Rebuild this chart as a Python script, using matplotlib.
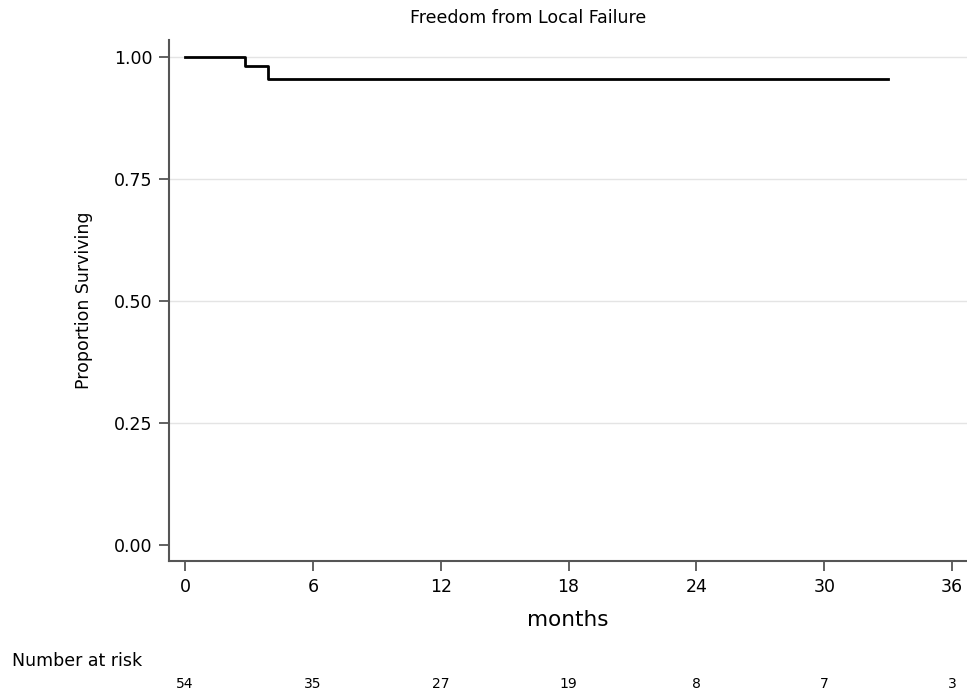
import matplotlib
matplotlib.use("Agg")
import matplotlib.pyplot as plt

# survival step curve (months, proportion)
times = [0, 2.8, 3.9, 33.0]
surv = [1.0, 0.981, 0.955, 0.955]

# number at risk table
risk_months = [0, 6, 12, 18, 24, 30, 36]
risk_counts = [54, 35, 27, 19, 8, 7, 3]

y_ticks = [0.0, 0.25, 0.5, 0.75, 1.0]
y_labels = ["0.00", "0.25", "0.50", "0.75", "1.00"]

plt.rcParams['font.family'] = ['DejaVu Sans']

fig = plt.figure(figsize=(9.67, 6.93), dpi=100)
ax = fig.add_axes([0.1748, 0.1905, 0.8252, 0.7518])

ax.step(times, surv, where='post', color='black', linewidth=2)

ax.set_xlim(-0.75, 36.7)
ax.set_ylim(-0.032, 1.035)
ax.set_xticks(risk_months)
ax.set_yticks(y_ticks)
ax.set_yticklabels(y_labels)

# light horizontal grid, except at zero
for yv in y_ticks[1:]:
    ax.axhline(yv, color='#e4e4e4', linewidth=1, zorder=0)

for side in ['top', 'right']:
    ax.spines[side].set_visible(False)
for side in ['left', 'bottom']:
    ax.spines[side].set_color('#555555')
    ax.spines[side].set_linewidth(1.5)

ax.tick_params(axis='both', direction='out', length=7, width=1.3, color='#555555',
               labelsize=12.5, pad=5)

ax.set_ylabel('Proportion Surviving', fontsize=12.5, labelpad=15)
ax.set_xlabel('months', fontsize=15.5, labelpad=10)

fig.text(528 / 967, 1 - 18 / 693, 'Freedom from Local Failure', fontsize=12.5,
         ha='center', va='center')

fig.text(12 / 967, 1 - 661 / 693, 'Number at risk', fontsize=12.5,
         ha='left', va='center')
for m, n in zip(risk_months, risk_counts):
    xf = fig.transFigure.inverted().transform(ax.transData.transform((m, 0)))[0]
    fig.text(xf, 1 - 684 / 693, str(n), fontsize=10,
             ha='center', va='center')

fig.savefig('out.png', dpi=100)
